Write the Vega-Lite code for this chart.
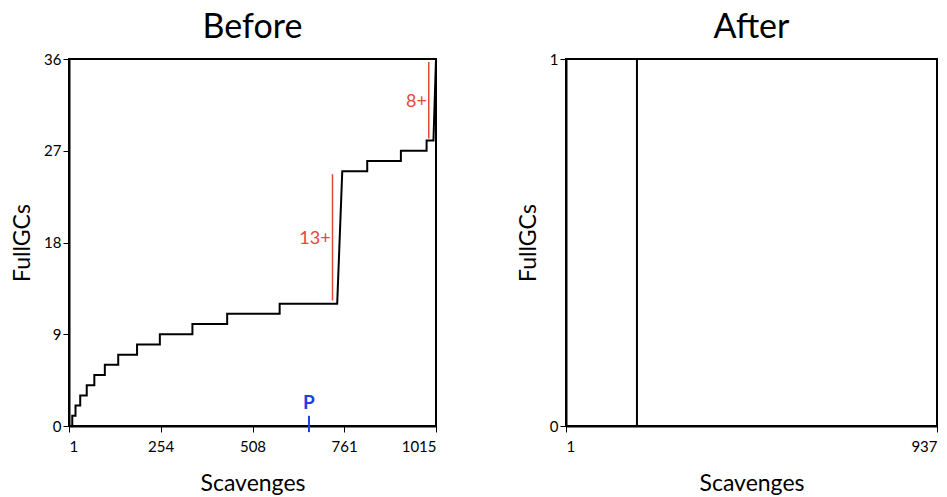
{
  "$schema": "https://vega.github.io/schema/vega-lite/v6.json",
  "padding": {"left": 10, "top": 10, "right": 0, "bottom": 0},
  "spacing": 75,
  "datasets": {
    "before": [
      {"i": 0, "scavenges": 1, "fullgcs": 0},
      {"i": 1, "scavenges": 10, "fullgcs": 0},
      {"i": 2, "scavenges": 10, "fullgcs": 1},
      {"i": 3, "scavenges": 19, "fullgcs": 1},
      {"i": 4, "scavenges": 19, "fullgcs": 2},
      {"i": 5, "scavenges": 32, "fullgcs": 2},
      {"i": 6, "scavenges": 32, "fullgcs": 3},
      {"i": 7, "scavenges": 50, "fullgcs": 3},
      {"i": 8, "scavenges": 50, "fullgcs": 4},
      {"i": 9, "scavenges": 71, "fullgcs": 4},
      {"i": 10, "scavenges": 71, "fullgcs": 5},
      {"i": 11, "scavenges": 100, "fullgcs": 5},
      {"i": 12, "scavenges": 100, "fullgcs": 6},
      {"i": 13, "scavenges": 137, "fullgcs": 6},
      {"i": 14, "scavenges": 137, "fullgcs": 7},
      {"i": 15, "scavenges": 189, "fullgcs": 7},
      {"i": 16, "scavenges": 189, "fullgcs": 8},
      {"i": 17, "scavenges": 252, "fullgcs": 8},
      {"i": 18, "scavenges": 252, "fullgcs": 9},
      {"i": 19, "scavenges": 342, "fullgcs": 9},
      {"i": 20, "scavenges": 342, "fullgcs": 10},
      {"i": 21, "scavenges": 438, "fullgcs": 10},
      {"i": 22, "scavenges": 438, "fullgcs": 11},
      {"i": 23, "scavenges": 583, "fullgcs": 11},
      {"i": 24, "scavenges": 583, "fullgcs": 12},
      {"i": 25, "scavenges": 742, "fullgcs": 12},
      {"i": 26, "scavenges": 756, "fullgcs": 25},
      {"i": 27, "scavenges": 825, "fullgcs": 25},
      {"i": 28, "scavenges": 825, "fullgcs": 26},
      {"i": 29, "scavenges": 918, "fullgcs": 26},
      {"i": 30, "scavenges": 918, "fullgcs": 27},
      {"i": 31, "scavenges": 989, "fullgcs": 27},
      {"i": 32, "scavenges": 989, "fullgcs": 28},
      {"i": 33, "scavenges": 1008, "fullgcs": 28},
      {"i": 34, "scavenges": 1015, "fullgcs": 36}
    ],
    "jumps": [
      {"scavenges": 729, "low": 12.3, "high": 24.7, "label": "13+", "labelx": 724, "labely": 18.3},
      {"scavenges": 995, "low": 28.2, "high": 35.7, "label": "8+", "labelx": 990, "labely": 31.8}
    ],
    "marker": [
      {"scavenges": 664, "low": -0.6, "high": 1, "label": "P", "labely": 1.3}
    ],
    "after": [
      {"i": 0, "scavenges": 1, "fullgcs": 0},
      {"i": 1, "scavenges": 180, "fullgcs": 0},
      {"i": 2, "scavenges": 180, "fullgcs": 1},
      {"i": 3, "scavenges": 937, "fullgcs": 1}
    ]
  },
  "hconcat": [
    {
      "title": "Before",
      "width": 367,
      "height": 367,
      "layer": [
        {
          "data": {"name": "before"},
          "mark": {"type": "line", "color": "black", "strokeWidth": 2},
          "encoding": {
            "x": {"field": "scavenges", "type": "quantitative", "title": "Scavenges",
                  "scale": {"domain": [1, 1015], "nice": false},
                  "axis": {"values": [1, 254, 508, 761, 1015], "format": "d"}},
            "y": {"field": "fullgcs", "type": "quantitative", "title": "FullGCs",
                  "scale": {"domain": [0, 36], "nice": false},
                  "axis": {"values": [0, 9, 18, 27, 36], "format": "d"}},
            "order": {"field": "i", "type": "quantitative"}
          }
        },
        {
          "data": {"name": "jumps"},
          "mark": {"type": "rule", "color": "#e5473a", "strokeWidth": 1.5},
          "encoding": {
            "x": {"field": "scavenges", "type": "quantitative"},
            "y": {"field": "low", "type": "quantitative"},
            "y2": {"field": "high"}
          }
        },
        {
          "data": {"name": "jumps"},
          "mark": {"type": "text", "color": "#e5473a", "align": "right", "baseline": "middle", "fontSize": 18, "font": "Lato"},
          "encoding": {
            "x": {"field": "labelx", "type": "quantitative"},
            "y": {"field": "labely", "type": "quantitative"},
            "text": {"field": "label"}
          }
        },
        {
          "data": {"name": "marker"},
          "mark": {"type": "rule", "color": "#1f3fe0", "strokeWidth": 2},
          "encoding": {
            "x": {"field": "scavenges", "type": "quantitative"},
            "y": {"field": "low", "type": "quantitative"},
            "y2": {"field": "high"}
          }
        },
        {
          "data": {"name": "marker"},
          "mark": {"type": "text", "color": "#1f3fe0", "align": "center", "baseline": "bottom", "fontSize": 19, "fontWeight": "bold", "font": "Lato"},
          "encoding": {
            "x": {"field": "scavenges", "type": "quantitative"},
            "y": {"field": "labely", "type": "quantitative"},
            "text": {"field": "label"}
          }
        }
      ]
    },
    {
      "title": "After",
      "width": 371,
      "height": 367,
      "data": {"name": "after"},
      "mark": {"type": "line", "color": "black", "strokeWidth": 2},
      "encoding": {
        "x": {"field": "scavenges", "type": "quantitative", "title": "Scavenges",
              "scale": {"domain": [1, 937], "nice": false},
              "axis": {"values": [1, 937], "format": "d"}},
        "y": {"field": "fullgcs", "type": "quantitative", "title": "FullGCs",
              "scale": {"domain": [0, 1], "nice": false},
              "axis": {"values": [0, 1], "format": "d"}},
        "order": {"field": "i", "type": "quantitative"}
      }
    }
  ],
  "config": {
    "font": "Lato",
    "view": {"stroke": "black", "strokeWidth": 2},
    "title": {"fontSize": 34, "fontWeight": "normal", "anchor": "middle", "frame": "group", "offset": 7, "color": "black"},
    "axis": {
      "grid": false,
      "domainColor": "black",
      "domainWidth": 2,
      "tickColor": "black",
      "tickSize": 6,
      "labelFontSize": 15,
      "labelColor": "black",
      "titleFontSize": 23,
      "titleFontWeight": "normal",
      "titleColor": "black"
    },
    "axisX": {"titlePadding": 18, "labelPadding": 7},
    "axisY": {"titlePadding": 9}
  }
}
